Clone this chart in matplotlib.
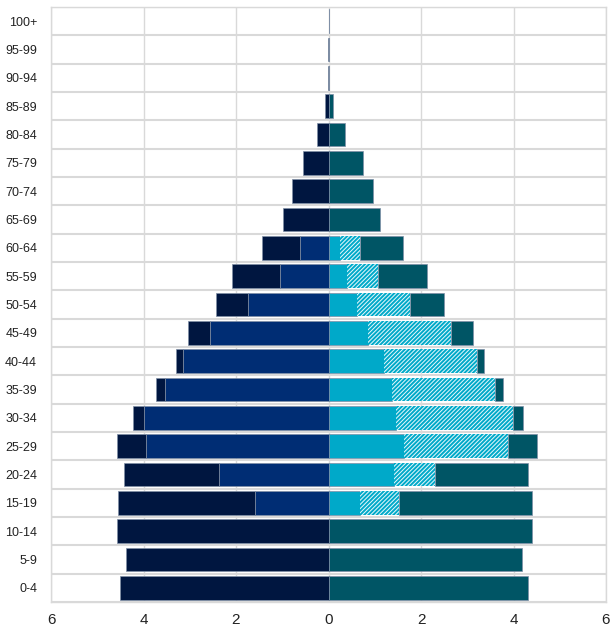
import matplotlib
matplotlib.use("Agg")
import matplotlib.pyplot as plt
import numpy as np

plt.rcParams['font.family'] = ['Liberation Sans', 'DejaVu Sans']
plt.rcParams['hatch.linewidth'] = 1.4

ages = ['0-4', '5-9', '10-14', '15-19', '20-24', '25-29', '30-34', '35-39', '40-44',
        '45-49', '50-54', '55-59', '60-64', '65-69', '70-74', '75-79', '80-84',
        '85-89', '90-94', '95-99', '100+']

# left side (shown as negative)
left_total = [4.51, 4.38, 4.57, 4.55, 4.42, 4.58, 4.22, 3.72, 3.29, 3.04, 2.43, 2.08,
              1.44, 0.99, 0.78, 0.55, 0.25, 0.07, 0.015, 0.004, 0.0]
left_blue = [0, 0, 0, 1.58, 2.37, 3.94, 4.00, 3.54, 3.15, 2.57, 1.73, 1.05,
             0.61, 0, 0, 0, 0, 0, 0, 0, 0]

# right side
right_cyan = [0, 0, 0, 0.69, 1.42, 1.64, 1.47, 1.37, 1.19, 0.85, 0.61, 0.40,
              0.245, 0, 0, 0, 0, 0, 0, 0, 0]
right_hatch = [0, 0, 0, 0.84, 0.89, 2.24, 2.52, 2.23, 2.01, 1.79, 1.16, 0.68,
               0.435, 0, 0, 0, 0, 0, 0, 0, 0]
right_total = [4.31, 4.19, 4.40, 4.40, 4.32, 4.51, 4.20, 3.77, 3.36, 3.13, 2.49, 2.13,
               1.61, 1.12, 0.96, 0.74, 0.36, 0.10, 0.02, 0.005, 0.0]

xticks = [-6, -4, -2, 0, 2, 4, 6]
xtick_labels = ['6', '4', '2', '0', '2', '4', '6']

navy = '#001640'
blue = '#002d74'
cyan = '#00a9c9'
teal = '#005565'
edge = '#7f8fa6'

fig = plt.figure(figsize=(6.16, 6.30), dpi=100)
ax = fig.add_axes([51/616, 1 - 602/630, 555/616, 595/630])

y = np.arange(len(ages))
lt = np.array(left_total)
lb = np.array(left_blue)
rc = np.array(right_cyan)
rh = np.array(right_hatch)
rt = np.array(right_total)

h = 0.83
ax.barh(y, -lb, height=h, color=blue, edgecolor=edge, linewidth=0.5, zorder=3)
ax.barh(y, -(lt - lb), left=-lb, height=h, color=navy, edgecolor=edge, linewidth=0.5, zorder=3)
ax.barh(y, rc, height=h, color=cyan, edgecolor=edge, linewidth=0.5, zorder=3)
ax.barh(y, rh, left=rc, height=h, color='#e6f7fb', edgecolor=cyan, hatch='////////',
        linewidth=0, zorder=3)
ax.barh(y, rt - rc - rh, left=rc + rh, height=h, color=teal, edgecolor=edge,
        linewidth=0.5, zorder=3)

ax.set_xlim(-6, 6)
ax.set_ylim(-0.5, len(ages) - 0.5)
ax.set_xticks(xticks)
ax.set_xticklabels(xtick_labels, fontsize=11, color='#222222')
ax.set_yticks(y)
ax.set_yticklabels(ages, fontsize=9, color='#222222')
ax.set_yticks(np.arange(len(ages) + 1) - 0.5, minor=True)

ax.grid(axis='x', color='#d9d9d9', linewidth=1, zorder=0)
ax.grid(axis='y', which='minor', color='#d9d9d9', linewidth=1.5, zorder=0)
ax.grid(axis='y', which='major', visible=False)
ax.tick_params(axis='both', which='both', length=0)
ax.tick_params(axis='x', pad=8)
ax.tick_params(axis='y', pad=10)
for s in ax.spines.values():
    s.set_color('#d9d9d9')
    s.set_linewidth(1)
ax.set_axisbelow(True)

fig.savefig('out.png', dpi=100)
